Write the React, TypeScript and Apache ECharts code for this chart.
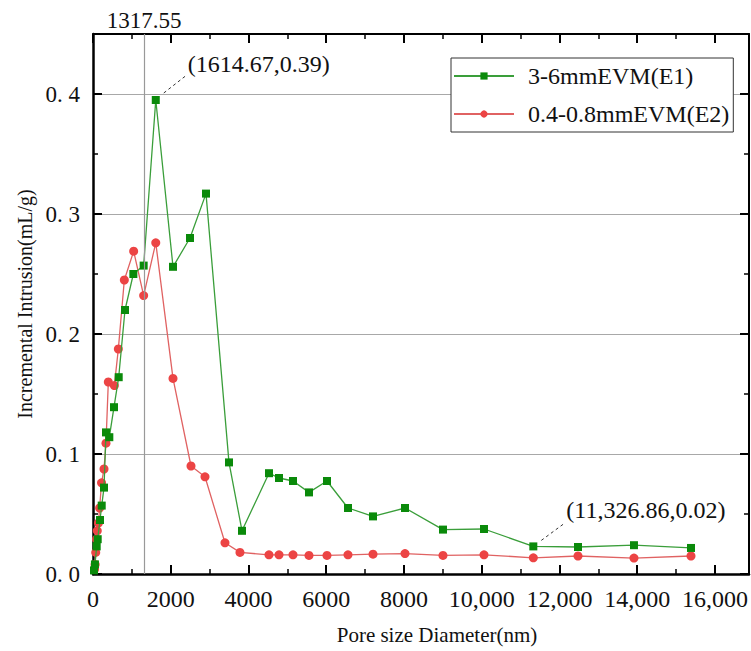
import React, { useEffect, useRef } from 'react';
import * as echarts from 'echarts';

// Series E1: 3-6mmEVM (green squares)
const e1X = [26, 50, 95, 121, 180, 224, 283, 334, 420, 540, 661, 823, 1038, 1303, 1614.67, 2058, 2495, 2907, 3498, 3833, 4527, 4785, 5145, 5556, 6019, 6559, 7203, 8026, 9003, 10058, 11326.86, 12476, 13916, 15383];
const e1Y = [0.003, 0.008, 0.023, 0.029, 0.045, 0.057, 0.072, 0.118, 0.114, 0.139, 0.164, 0.22, 0.25, 0.257, 0.395, 0.256, 0.28, 0.317, 0.093, 0.036, 0.084, 0.08, 0.0775, 0.068, 0.0775, 0.055, 0.048, 0.055, 0.037, 0.0375, 0.023, 0.0225, 0.024, 0.0217];

// Series E2: 0.4-0.8mmEVM (red circles)
const e2X = [40, 55, 70, 90, 110, 140, 170, 220, 283, 334, 394, 549, 652, 806, 1046, 1303, 1614.67, 2058, 2521, 2881, 3395, 3781, 4527, 4785, 5145, 5556, 6019, 6559, 7203, 8026, 9003, 10058, 11326.86, 12476, 13916, 15383];
const e2Y = [0.004, 0.008, 0.018, 0.029, 0.036, 0.0425, 0.055, 0.076, 0.0875, 0.109, 0.16, 0.157, 0.1875, 0.245, 0.269, 0.232, 0.276, 0.163, 0.09, 0.081, 0.026, 0.018, 0.016, 0.016, 0.016, 0.0155, 0.0155, 0.016, 0.0165, 0.017, 0.0155, 0.016, 0.0135, 0.015, 0.0133, 0.015];

const seriesNames = ['3-6mmEVM(E1)', '0.4-0.8mmEVM(E2)'];
const refLineX = 1317.55;
const peakPoint = [1614.67, 0.395];
const peakText = '(1614.67,0.39)';
const tailPoint = [11326.86, 0.023];
const tailText = '(11,326.86,0.02)';

const X_MAX = 16875;
const Y_MAX = 0.45;
const FONT = '"Liberation Serif", "Times New Roman", serif';

function pairs(xs: number[], ys: number[]) {
  return xs.map((x, i) => [x, ys[i]]);
}

function fmtX(v: number) {
  if (v % 2000 !== 0) return '';
  return v >= 10000 ? v.toLocaleString('en-US') : String(v);
}

function fmtY(v: number) {
  const r = Math.round(v * 100) / 100;
  if (Math.abs(r * 10 - Math.round(r * 10)) > 1e-6) return '';
  return r.toFixed(1).replace('.', '. ');
}

export default function App() {
  const ref = useRef<HTMLDivElement>(null);
  useEffect(() => {
    if (!ref.current) return;
    const chart = echarts.init(ref.current, undefined, { renderer: 'svg' });
    const axisLineStyle = { color: '#000', width: 2.5 };
    const option: any = {
      animation: false,
      backgroundColor: '#fff',
      textStyle: { fontFamily: FONT },
      grid: { left: 93, right: 2, top: 34, bottom: 77, containLabel: false },
      legend: {
        orient: 'vertical',
        left: 451,
        top: 58,
        data: seriesNames,
        itemWidth: 60,
        itemHeight: 9,
        itemGap: 14,
        padding: [6, 4, 6, 2],
        backgroundColor: '#fff',
        borderColor: '#333',
        borderWidth: 1,
        textStyle: { fontFamily: FONT, fontSize: 24, color: '#111', padding: [0, 0, 0, 9], lineHeight: 24 },
      },
      xAxis: [
        {
          type: 'value',
          min: 0,
          max: X_MAX,
          interval: 2000,
          position: 'bottom',
          name: 'Pore size Diameter(nm)',
          nameLocation: 'middle',
          nameGap: 50,
          nameTextStyle: { fontFamily: FONT, fontSize: 21, color: '#111', padding: [0, 0, 0, 32] },
          axisLine: { show: true, onZero: false, lineStyle: axisLineStyle },
          axisTick: { show: true, inside: true, length: 9, lineStyle: { color: '#000', width: 2 } },
          minorTick: { show: true, splitNumber: 2, length: 5, lineStyle: { color: '#000', width: 1.5 } },
          axisLabel: { formatter: fmtX, fontFamily: FONT, fontSize: 24, color: '#111', margin: 13, showMaxLabel: false },
          splitLine: { show: false },
        },
        {
          type: 'value',
          min: 0,
          max: X_MAX,
          interval: 2000,
          position: 'top',
          axisLine: { show: true, onZero: false, lineStyle: { color: '#000', width: 2 } },
          axisTick: { show: true, inside: true, length: 9, lineStyle: { color: '#000', width: 2 } },
          minorTick: { show: true, splitNumber: 2, length: 5, lineStyle: { color: '#000', width: 1.5 } },
          axisLabel: { show: false },
          splitLine: { show: false },
        },
      ],
      yAxis: [
        {
          type: 'value',
          min: 0,
          max: Y_MAX,
          interval: 0.1,
          position: 'left',
          name: 'Incremental Intrusion(mL/g)',
          nameLocation: 'middle',
          nameGap: 58,
          nameTextStyle: { fontFamily: FONT, fontSize: 20, color: '#111' },
          axisLine: { show: true, onZero: false, lineStyle: axisLineStyle },
          axisTick: { show: true, inside: true, length: 9, lineStyle: { color: '#000', width: 2 } },
          minorTick: { show: true, splitNumber: 2, length: 5, lineStyle: { color: '#000', width: 1.5 } },
          axisLabel: { formatter: fmtY, fontFamily: FONT, fontSize: 23, color: '#111', margin: 13, showMaxLabel: false },
          splitLine: { show: true, lineStyle: { color: '#a8a8a8', width: 1.2 } },
        },
        {
          type: 'value',
          min: 0,
          max: Y_MAX,
          interval: 0.1,
          position: 'right',
          axisLine: { show: true, onZero: false, lineStyle: { color: '#000', width: 2 } },
          axisTick: { show: true, inside: true, length: 9, lineStyle: { color: '#000', width: 2 } },
          minorTick: { show: true, splitNumber: 2, length: 5, lineStyle: { color: '#000', width: 1.5 } },
          axisLabel: { show: false },
          splitLine: { show: false },
        },
      ],
      series: [
        {
          name: seriesNames[0],
          type: 'line',
          data: pairs(e1X, e1Y),
          symbol: 'rect',
          symbolSize: 8,
          itemStyle: { color: '#0a8a0a' },
          lineStyle: { color: '#3a9e3a', width: 1.3 },
          z: 3,
          markLine: {
            silent: true,
            symbol: ['none', 'none'],
            lineStyle: { color: '#999', width: 1.2, type: 'solid' },
            label: { show: true, position: 'end', formatter: String(refLineX), fontFamily: FONT, fontSize: 23, color: '#111', distance: 2 },
            data: [{ xAxis: refLineX }],
          },
        },
        {
          name: seriesNames[1],
          type: 'line',
          data: pairs(e2X, e2Y),
          symbol: 'circle',
          symbolSize: 9,
          itemStyle: { color: '#ec4444' },
          lineStyle: { color: '#e06262', width: 1.3 },
          z: 2,
        },
      ],
    };
    chart.setOption(option);

    const p1 = chart.convertToPixel({ gridIndex: 0 } as any, peakPoint) as number[];
    const p2 = chart.convertToPixel({ gridIndex: 0 } as any, tailPoint) as number[];
    const dash = { stroke: '#333', lineWidth: 1, lineDash: [3, 3] };
    const txt = (text: string) => ({ text, fontFamily: FONT, fontSize: 24, fill: '#111', verticalAlign: 'middle', align: 'left' });
    chart.setOption({
      graphic: [
        { type: 'line', shape: { x1: p1[0] + 8, y1: p1[1] - 7, x2: p1[0] + 31, y2: p1[1] - 25 }, style: dash, z: 10 },
        { type: 'text', x: p1[0] + 32, y: p1[1] - 36, style: txt(peakText), z: 10 },
        { type: 'line', shape: { x1: p2[0] + 8, y1: p2[1] - 6, x2: p2[0] + 31, y2: p2[1] - 23 }, style: dash, z: 10 },
        { type: 'text', x: p2[0] + 33, y: p2[1] - 36, style: txt(tailText), z: 10 },
      ],
    });

    return () => chart.dispose();
  }, []);
  return <div ref={ref} style={{ position: 'fixed', left: 0, top: 0, width: 751, height: 651 }} />;
}
